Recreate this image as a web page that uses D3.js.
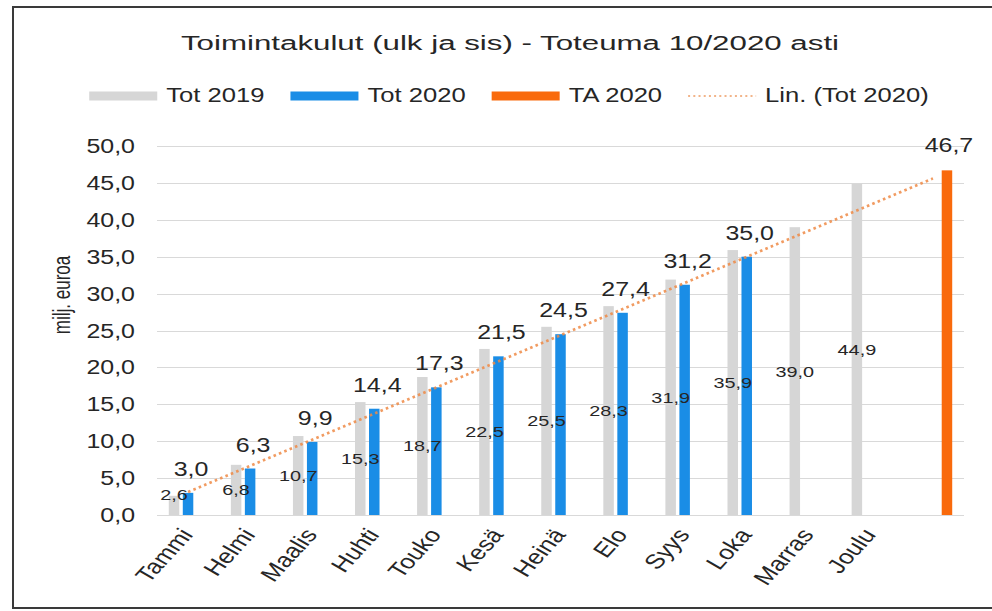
<!DOCTYPE html>
<html><head><meta charset="utf-8">
<script src="https://cdn.jsdelivr.net/npm/d3@7"></script>
<style>
body{margin:0;background:#fff}
svg{display:block}
text{font-family:"Liberation Sans",Arial,sans-serif;fill:#262626}
</style>
</head><body>
<svg id="c" width="992" height="611"></svg>
<script>
// ---- data ----
const title = "Toimintakulut (ulk ja sis) - Toteuma 10/2020 asti";
const categories = ["Tammi","Helmi","Maalis","Huhti","Touko","Kesä","Heinä","Elo","Syys","Loka","Marras","Joulu",""];
const tot2019 = [2.6,6.8,10.7,15.3,18.7,22.5,25.5,28.3,31.9,35.9,39.0,44.9];
const tot2020 = [3.0,6.3,9.9,14.4,17.3,21.5,24.5,27.4,31.2,35.0];
const ta2020 = [null,null,null,null,null,null,null,null,null,null,null,null,46.7];
const yTicks = [0,5,10,15,20,25,30,35,40,45,50];
const seriesNames = ["Tot 2019","Tot 2020","TA 2020","Lin. (Tot 2020)"];
const yTitle = "milj. euroa";

// ---- style ----
const W=992,H=611,SX=1.28;
const C_GRAY="#D6D6D6", C_BLUE="#1A8DE6", C_ORANGE="#F96A0C", C_TREND="#EE8A45";
const fmt = v => d3.format(".1f")(v).replace(".", ",");

const svg=d3.select("#c");
svg.append("rect").attr("width",W).attr("height",H).attr("fill","#fff");
svg.append("rect").attr("x",13).attr("y",7).attr("width",1000).attr("height",601)
  .attr("fill","none").attr("stroke","#3a3a3a").attr("stroke-width",2);

function txt(parent, x, y, s, size, anchor, extra, sx){
  return parent.append("text")
    .attr("transform", `translate(${x},${y}) scale(${sx||SX},1)` + (extra||""))
    .attr("text-anchor", anchor||"start")
    .style("font-size", size+"px")
    .text(s);
}

const x=d3.scaleBand().domain(d3.range(categories.length)).range([157,964]);
const y=d3.scaleLinear().domain([0,50]).range([515,146]);
const cx = i => x(i)+x.bandwidth()/2;
const slot=14, bw=10.5;

// gridlines
svg.append("g").selectAll("line").data(yTicks).join("line")
  .attr("x1",157).attr("x2",964)
  .attr("y1",d=>Math.round(y(d))+0.5).attr("y2",d=>Math.round(y(d))+0.5)
  .attr("stroke","#D9D9D9").attr("stroke-width",1);

// y tick labels
const yl=svg.append("g");
yTicks.forEach(t=>txt(yl,135,y(t)+7,fmt(t),19.5,"end"));

// y title
txt(svg,70,295,yTitle,17,"middle"," rotate(-90)",1.4);

// x labels
const xl=svg.append("g");
categories.forEach((c,i)=>{ if(c) txt(xl,cx(i)+6,535,c,20.5,"end"," rotate(-54)"); });

// bars
const bars=svg.append("g");
bars.selectAll("rect.g").data(tot2019).join("rect").attr("class","g")
  .attr("x",(d,i)=>cx(i)-slot-bw/2).attr("width",bw)
  .attr("y",d=>y(d)).attr("height",d=>y(0)-y(d)).attr("fill",C_GRAY);
bars.selectAll("rect.b").data(tot2020).join("rect").attr("class","b")
  .attr("x",(d,i)=>cx(i)-bw/2).attr("width",bw)
  .attr("y",d=>y(d)).attr("height",d=>y(0)-y(d)).attr("fill",C_BLUE);
bars.selectAll("rect.o").data(ta2020.map((v,i)=>({v,i})).filter(d=>d.v!=null)).join("rect").attr("class","o")
  .attr("x",d=>cx(d.i)+slot-bw/2).attr("width",bw)
  .attr("y",d=>y(d.v)).attr("height",d=>y(0)-y(d.v)).attr("fill",C_ORANGE);

// trendline (linear least squares of Tot 2020, forecast to last category)
const n=tot2020.length, xs=d3.range(1,n+1);
const mx=d3.mean(xs), my=d3.mean(tot2020);
const slope=d3.sum(xs.map((xv,k)=>(xv-mx)*(tot2020[k]-my)))/d3.sum(xs.map(xv=>(xv-mx)**2));
const icpt=my-slope*mx;
const tIdx=[0,categories.length-1];
svg.append("path")
  .attr("d",d3.line()(tIdx.map(i=>[cx(i),y(icpt+slope*(i+1))])))
  .attr("fill","none").attr("stroke",C_TREND).attr("stroke-width",2.6)
  .attr("stroke-dasharray","2.6,3.2").attr("opacity",0.85);

// labels
const lab=svg.append("g");
tot2019.forEach((v,i)=>{
  const yy=Math.min(y(v/2), y(0)-21);
  txt(lab,cx(i)-slot,yy+5.5,fmt(v),15.5,"middle");
});
tot2020.forEach((v,i)=>txt(lab,cx(i)+3,y(v)-17,fmt(v),19.5,"middle"));
ta2020.forEach((v,i)=>{ if(v!=null) txt(lab,cx(i)+slot+2,y(v)-18,fmt(v),19.5,"middle"); });

// title
txt(svg,510,50,title,21,"middle","",1.49);

// legend
const lg=svg.append("g");
const swW=68, gap1=9, gap2=26, ly=96, lb=102;
let pos=0;
seriesNames.forEach((s,k)=>{
  const g=lg.append("g");
  if(k<3){
    g.append("rect").attr("x",pos).attr("y",ly-4.5).attr("width",swW).attr("height",9)
      .attr("fill",[C_GRAY,C_BLUE,C_ORANGE][k]);
  } else {
    g.append("line").attr("x1",pos).attr("x2",pos+swW).attr("y1",ly).attr("y2",ly)
      .attr("stroke","#F2B489").attr("stroke-width",2).attr("stroke-dasharray","2,3.2");
  }
  const t=txt(g,pos+swW+gap1,lb,s,20,"start");
  const w=t.node().getComputedTextLength()*SX;
  pos+=swW+gap1+w+gap2;
});
const total=pos-gap2;
lg.attr("transform",`translate(${509-total/2},0)`);
</script>
</body></html>
